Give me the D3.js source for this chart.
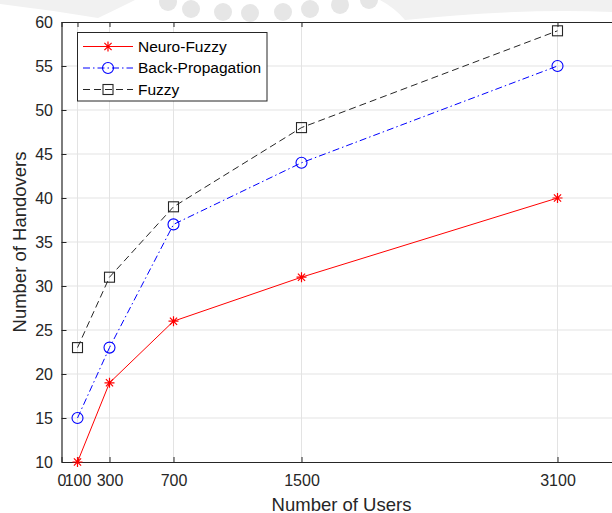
<!DOCTYPE html>
<html>
<head>
<meta charset="utf-8">
<script src="https://cdn.jsdelivr.net/npm/d3@7"></script>
<style>
  body { margin: 0; background: #fff; }
  svg { display: block; font-family: "Liberation Sans", Arial, sans-serif; }
  .axis path, .axis line { stroke: #262626; }
  .axis text { fill: #262626; font-size: 16px; }
</style>
</head>
<body>
<svg id="chart" width="612" height="513"></svg>
<script>
// data
const users = [100, 300, 700, 1500, 3100];
const xTicks = [0, 100, 300, 700, 1500, 3100];
const yTicks = [10, 15, 20, 25, 30, 35, 40, 45, 50, 55, 60];
const neuroFuzzy = [10, 19, 26, 31, 40];
const backProp = [15, 23, 37, 44, 55];
const fuzzy = [23, 31, 39, 48, 59];

const series = [
    { name: "Neuro-Fuzzy", values: neuroFuzzy, color: "#ff0000", dash: null, marker: "star" },
    { name: "Back-Propagation", values: backProp, color: "#0000ff", dash: "7,3,1.5,3", marker: "circle" },
    { name: "Fuzzy", values: fuzzy, color: "#262626", dash: "7,4", marker: "square" }
];

const svg = d3.select("#chart");
const margin = { top: 22, left: 61.5, bottom: 51 };
const plotRight = 621.5;   // axes run past the picture's right edge
const plotBottom = 513 - margin.bottom;

const x = d3.scaleLinear().domain([0, 3500]).range([margin.left, plotRight]);
const y = d3.scaleLinear().domain([10, 60]).range([plotBottom, margin.top]);

// faint watermark at the top of the page
const wm = svg.append("g");
wm.append("path").attr("fill", "#f1f1f1")
    .attr("d", "M0,0 L135,0 Q115,10 98,18 Q50,10 0,4 Z");
wm.append("path").attr("fill", "#f1f1f1")
    .attr("d", "M380,0 L612,0 L612,12 Q520,8 405,20 Q395,8 380,0 Z");
[[168, 2], [191, 9], [223, 12], [250, 13], [283, 12], [310, 9], [340, 5], [369, 0]].forEach(c => {
    wm.append("ellipse").attr("cx", c[0]).attr("cy", c[1]).attr("rx", 9).attr("ry", 9).attr("fill", "#e6e6e6");
});

// grid
const grid = svg.append("g").attr("stroke", "#e3e3e3").attr("stroke-width", 1);
grid.selectAll(".gx").data(xTicks.slice(1)).enter().append("line")
    .attr("x1", d => x(d)).attr("x2", d => x(d))
    .attr("y1", margin.top).attr("y2", plotBottom);
grid.selectAll(".gy").data(yTicks.slice(1, -1)).enter().append("line")
    .attr("x1", margin.left).attr("x2", plotRight)
    .attr("y1", d => y(d)).attr("y2", d => y(d));

// axes (matlab style: ticks point inward, box on)
svg.append("g").classed("axis", true)
    .attr("transform", `translate(0, ${plotBottom})`)
    .call(d3.axisBottom(x).tickValues(xTicks).tickFormat(d3.format("d")).tickSizeInner(-5).tickSizeOuter(0).tickPadding(12.5));

svg.append("g").classed("axis", true)
    .attr("transform", `translate(0, ${margin.top})`)
    .call(d3.axisTop(x).tickValues(xTicks).tickFormat("").tickSizeInner(-5).tickSizeOuter(0));

svg.append("g").classed("axis", true)
    .attr("transform", `translate(${margin.left}, 0)`)
    .call(d3.axisLeft(y).tickValues(yTicks).tickSizeInner(-5).tickSizeOuter(0).tickPadding(8.5));

svg.selectAll(".axis .domain").attr("stroke-width", 1.2);

// labels
svg.append("text")
    .attr("x", (margin.left + plotRight) / 2).attr("y", 511)
    .attr("text-anchor", "middle").attr("font-size", 18.5).attr("fill", "#262626")
    .text("Number of Users");
svg.append("text")
    .attr("transform", `translate(26, ${(margin.top + plotBottom) / 2}) rotate(-90)`)
    .attr("text-anchor", "middle").attr("font-size", 18.5).attr("fill", "#262626")
    .text("Number of Handovers");

function drawMarker(g, type, color) {
    if (type === "star") {
        g.append("path").attr("d", "M-5,0H5M0,-5V5M-3.6,-3.6L3.6,3.6M-3.6,3.6L3.6,-3.6")
            .attr("stroke", color).attr("stroke-width", 1.2).attr("fill", "none");
    } else if (type === "circle") {
        g.append("circle").attr("r", 5.5).attr("stroke", color).attr("stroke-width", 1.1).attr("fill", "none");
    } else {
        g.append("rect").attr("x", -5).attr("y", -5).attr("width", 10).attr("height", 10)
            .attr("stroke", color).attr("stroke-width", 1.1).attr("fill", "none");
    }
}

const line = d3.line().x(d => x(d[0])).y(d => y(d[1]));
series.forEach(s => {
    const pts = users.map((u, i) => [u, s.values[i]]);
    svg.append("path").datum(pts)
        .attr("d", line).attr("fill", "none")
        .attr("stroke", s.color).attr("stroke-width", 1)
        .attr("stroke-dasharray", s.dash);
    pts.forEach(p => {
        const g = svg.append("g").attr("transform", `translate(${x(p[0])}, ${y(p[1])})`);
        drawMarker(g, s.marker, s.color);
    });
});

// legend
const legend = svg.append("g").attr("transform", "translate(77.5, 32.5)");
legend.append("rect").attr("width", 189.5).attr("height", 68.5)
    .attr("fill", "#fff").attr("stroke", "#262626").attr("stroke-width", 1);
series.forEach((s, i) => {
    const row = legend.append("g").attr("transform", `translate(0, ${14 + i * 21.5})`);
    row.append("line").attr("x1", 5.5).attr("x2", 55.5).attr("y1", 0).attr("y2", 0)
        .attr("stroke", s.color).attr("stroke-width", 1).attr("stroke-dasharray", s.dash);
    drawMarker(row.append("g").attr("transform", "translate(30.5, 0)"), s.marker, s.color);
    row.append("text").attr("x", 60.5).attr("y", 0).attr("dy", "0.35em")
        .attr("font-size", 15.5).attr("fill", "#000").text(s.name);
});
</script>
</body>
</html>
